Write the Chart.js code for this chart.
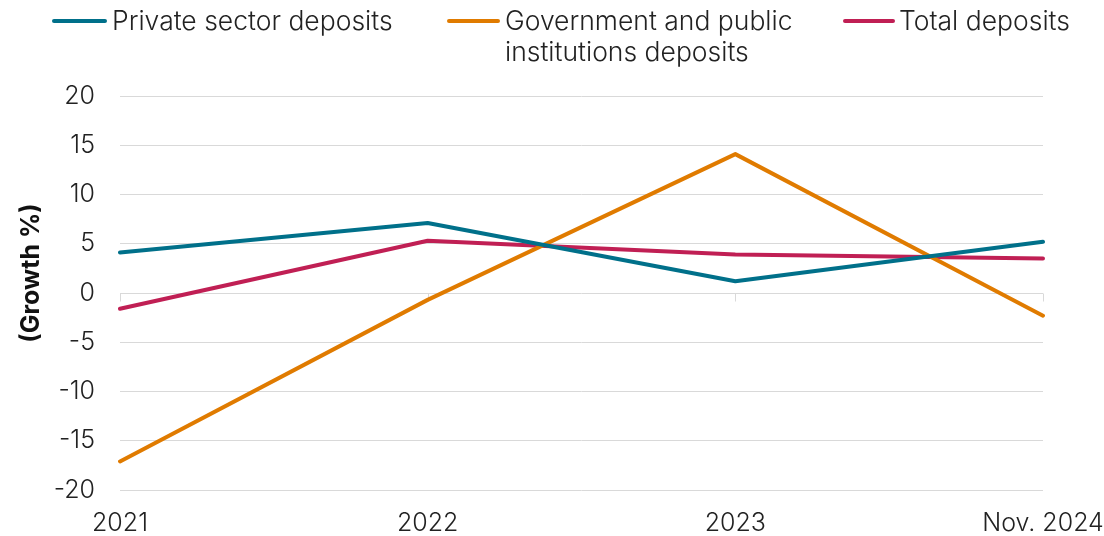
<!DOCTYPE html>
<html><head><meta charset="utf-8">
<script src="https://cdn.jsdelivr.net/npm/chart.js@4.4.1/dist/chart.umd.min.js"></script>
<style>
html,body{margin:0;padding:0;background:#fff;}
#wrap{position:relative;width:1104px;height:536px;}
canvas{position:absolute;left:0;top:0;}
.leg{position:absolute;font-family:Inter,sans-serif;font-weight:300;font-size:26.5px;color:#222;line-height:31px;white-space:nowrap;}
.sw{position:absolute;height:4px;border-radius:2px;}
</style></head><body>
<div id="wrap">
<canvas id="c" width="1104" height="536"></canvas>
</div>
<script>
const categories = ["2021", "2022", "2023", "Nov. 2024"];
const seriesNames = ["Private sector deposits", "Government and public institutions deposits", "Total deposits"];
const privateSector = [4.1, 7.1, 1.2, 5.2];
const government = [-17.1, -0.7, 14.1, -2.3];
const total = [-1.6, 5.3, 3.9, 3.5];
const yTicks = [-20, -15, -10, -5, 0, 5, 10, 15, 20];
const yTitle = "(Growth %)";
const colors = ["#00708a", "#e07b00", "#c01f54"];

// HTML legend
const wrap = document.getElementById('wrap');
const legendItems = [
  {sw:[52,107], x:112, lines:["Private sector deposits"]},
  {sw:[447,500], x:505, lines:["Government and public","institutions deposits"]},
  {sw:[843,895], x:899, lines:["Total deposits"]}
];
legendItems.forEach((it,i)=>{
  const s=document.createElement('div');s.className='sw';
  s.style.left=it.sw[0]+'px';s.style.width=(it.sw[1]-it.sw[0])+'px';s.style.top='19px';s.style.background=colors[i];
  wrap.appendChild(s);
  const t=document.createElement('div');t.className='leg';
  t.style.left=it.x+'px';t.style.top='5px';t.innerHTML=it.lines.join('<br>');
  wrap.appendChild(t);
});

const extras = {
  id:'extras',
  beforeDatasetsDraw(chart){
    const {ctx, scales:{x,y}} = chart;
    const y0 = Math.round(y.getPixelForValue(0))+0.5;
    ctx.save();
    ctx.strokeStyle = '#d9d9d9';
    ctx.lineWidth = 1;
    categories.forEach((c,i)=>{
      const px = Math.round(x.getPixelForValue(i))+0.5;
      ctx.beginPath();ctx.moveTo(px,y0);ctx.lineTo(px,y0+8);ctx.stroke();
    });
    ctx.restore();
  },
  afterDraw(chart){
    const {ctx} = chart;
    ctx.save();
    ctx.translate(31, 273);
    ctx.rotate(-Math.PI/2);
    ctx.textAlign='center';ctx.textBaseline='middle';
    ctx.fillStyle='#111';
    ctx.font='bold 25px Inter, sans-serif';
    ctx.fillText(yTitle,0,0);
    ctx.restore();
  }
};

const tickFont = {family:'Inter',weight:300,size:25,lineHeight:1};
new Chart(document.getElementById('c'), {
  type:'line',
  data:{
    labels:categories,
    datasets:[
      {label:seriesNames[0], data:privateSector, borderColor:colors[0]},
      {label:seriesNames[1], data:government, borderColor:colors[1]},
      {label:seriesNames[2], data:total, borderColor:colors[2]}
    ].map(d=>Object.assign(d,{borderWidth:4,pointRadius:0,tension:0,fill:false,borderCapStyle:'round',borderJoinStyle:'round'}))
  },
  options:{
    responsive:false, animation:false,
    layout:{padding:{top:96,left:0,right:0,bottom:0}},
    plugins:{legend:{display:false},tooltip:{enabled:false}},
    scales:{
      x:{
        offset:false,
        afterFit(s){s.height=46;s.paddingLeft=0;s.paddingRight=61;},
        grid:{display:false,drawTicks:false},
        border:{display:false},
        ticks:{color:'#222',font:tickFont,padding:21,maxRotation:0,autoSkip:false}
      },
      y:{
        min:-20,max:20,
        afterBuildTicks(s){s.ticks=yTicks.map(v=>({value:v}));},
        afterFit(s){s.width=120;},
        grid:{color:'#d9d9d9',lineWidth:1,drawTicks:false},
        border:{display:false},
        ticks:{color:'#222',font:tickFont,padding:25}
      }
    }
  },
  plugins:[extras]
});
</script>
</body></html>
